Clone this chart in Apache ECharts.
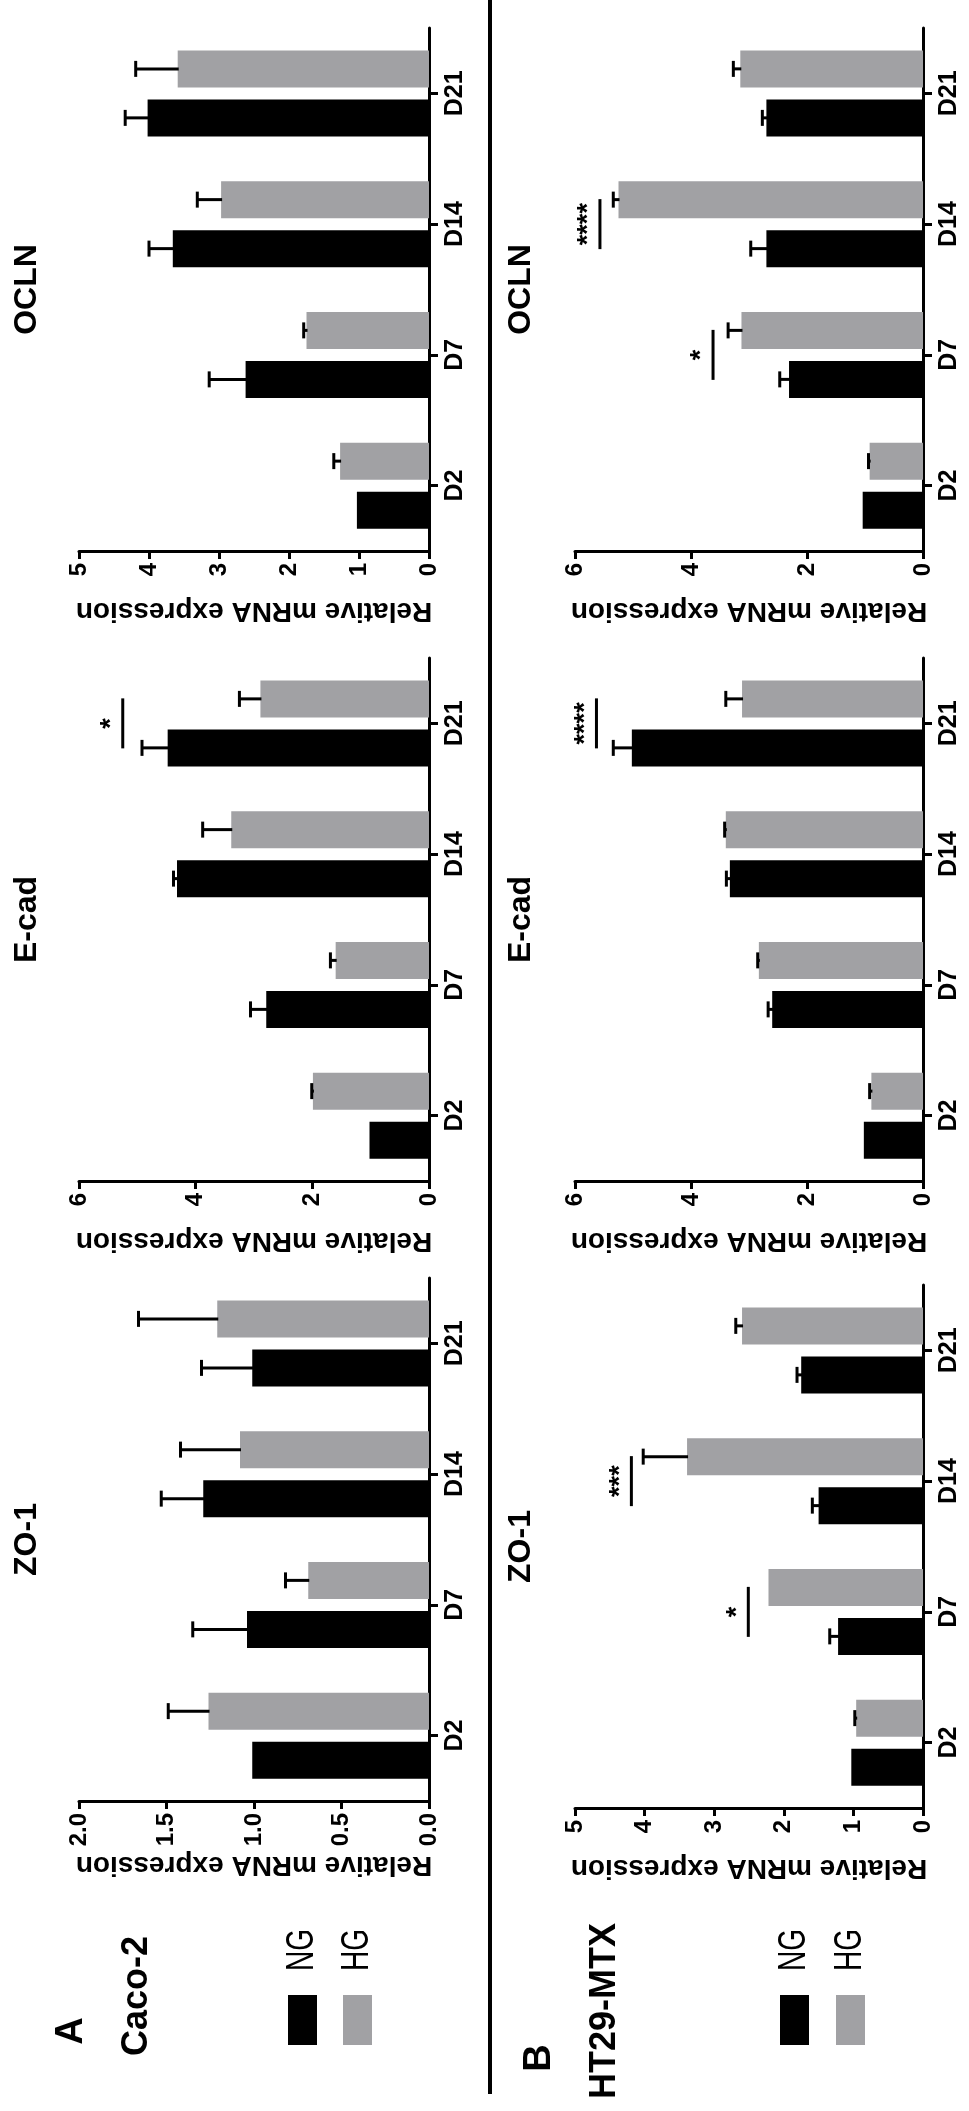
<!DOCTYPE html>
<html>
<head>
<meta charset="utf-8">
<script src="https://cdn.jsdelivr.net/npm/echarts@6/dist/echarts.min.js"></script>
<style>
html,body{margin:0;padding:0;background:#ffffff;}
#c{width:969px;height:2111px;}
</style>
</head>
<body>
<div id="c"></div>
<script>
// ---------------- data ----------------
const categories = ['D2', 'D7', 'D14', 'D21'];
const groupNames = ['NG', 'HG'];

// Caco-2 (A)
const caco_OCLN_NG = [1.03, 2.62, 3.66, 4.02];
const caco_OCLN_NG_err = [0, 0.52, 0.34, 0.32];
const caco_OCLN_HG = [1.27, 1.75, 2.97, 3.59];
const caco_OCLN_HG_err = [0.09, 0.04, 0.34, 0.60];
const caco_OCLN_ticks = [0, 1, 2, 3, 4, 5];
const caco_OCLN_tickLabels = ['0', '1', '2', '3', '4', '5'];
const caco_OCLN_sig = [];

const caco_Ecad_NG = [1.02, 2.79, 4.32, 4.48];
const caco_Ecad_NG_err = [0, 0.27, 0.06, 0.44];
const caco_Ecad_HG = [1.99, 1.60, 3.39, 2.89];
const caco_Ecad_HG_err = [0.02, 0.09, 0.49, 0.36];
const caco_Ecad_ticks = [0, 2, 4, 6];
const caco_Ecad_tickLabels = ['0', '2', '4', '6'];
const caco_Ecad_sig = [{cat: 3, value: 5.25, text: '*'}];

const caco_ZO1_NG = [1.01, 1.04, 1.29, 1.01];
const caco_ZO1_NG_err = [0, 0.31, 0.24, 0.29];
const caco_ZO1_HG = [1.26, 0.69, 1.08, 1.21];
const caco_ZO1_HG_err = [0.23, 0.13, 0.34, 0.45];
const caco_ZO1_ticks = [0, 0.5, 1.0, 1.5, 2.0];
const caco_ZO1_tickLabels = ['0.0', '0.5', '1.0', '1.5', '2.0'];
const caco_ZO1_sig = [];

// HT29-MTX (B)
const ht29_OCLN_NG = [1.04, 2.31, 2.70, 2.70];
const ht29_OCLN_NG_err = [0, 0.16, 0.27, 0.07];
const ht29_OCLN_HG = [0.92, 3.13, 5.25, 3.15];
const ht29_OCLN_HG_err = [0.02, 0.23, 0.09, 0.12];
const ht29_OCLN_ticks = [0, 2, 4, 6];
const ht29_OCLN_tickLabels = ['0', '2', '4', '6'];
const ht29_OCLN_sig = [{cat: 1, value: 3.62, text: '*'}, {cat: 2, value: 5.57, text: '****'}];

const ht29_Ecad_NG = [1.02, 2.60, 3.33, 5.02];
const ht29_Ecad_NG_err = [0, 0.07, 0.06, 0.32];
const ht29_Ecad_HG = [0.89, 2.83, 3.40, 3.12];
const ht29_Ecad_HG_err = [0.03, 0.02, 0.02, 0.28];
const ht29_Ecad_ticks = [0, 2, 4, 6];
const ht29_Ecad_tickLabels = ['0', '2', '4', '6'];
const ht29_Ecad_sig = [{cat: 3, value: 5.63, text: '****'}];

const ht29_ZO1_NG = [1.03, 1.22, 1.50, 1.75];
const ht29_ZO1_NG_err = [0, 0.12, 0.09, 0.06];
const ht29_ZO1_HG = [0.96, 2.22, 3.39, 2.60];
const ht29_ZO1_HG_err = [0.02, 0, 0.63, 0.09];
const ht29_ZO1_ticks = [0, 1, 2, 3, 4, 5];
const ht29_ZO1_tickLabels = ['0', '1', '2', '3', '4', '5'];
const ht29_ZO1_sig = [{cat: 1, value: 2.51, text: '*'}, {cat: 2, value: 4.19, text: '***'}];

const panelTitles = ['OCLN', 'E-cad', 'ZO-1'];
const cellLines = ['Caco-2', 'HT29-MTX'];
const panelLetters = ['A', 'B'];
const axisTitle = 'Relative mRNA expression';

// ---------------- layout / style ----------------
const FONT = "'Liberation Sans', Arial, Helvetica, sans-serif";
const NG_COLOR = '#000000';
const HG_COLOR = '#a1a1a4';
const BAR_W = 37, BAR_GAP = 12;
const TOTAL_W = BAR_W * 2 + BAR_GAP;
const COL_LEFT = [79, 575];
const COL_W = [350, 348];
const ROW_TOP = [[28, 658, 1278], [28, 658, 1285]];
const GRID_H = 523;
const TITLE_X = [27, 521];

const panels = [
  {col: 0, row: 0, ng: caco_OCLN_NG, ngErr: caco_OCLN_NG_err, hg: caco_OCLN_HG, hgErr: caco_OCLN_HG_err, ticks: caco_OCLN_ticks, tl: caco_OCLN_tickLabels, sig: caco_OCLN_sig},
  {col: 0, row: 1, ng: caco_Ecad_NG, ngErr: caco_Ecad_NG_err, hg: caco_Ecad_HG, hgErr: caco_Ecad_HG_err, ticks: caco_Ecad_ticks, tl: caco_Ecad_tickLabels, sig: caco_Ecad_sig},
  {col: 0, row: 2, ng: caco_ZO1_NG, ngErr: caco_ZO1_NG_err, hg: caco_ZO1_HG, hgErr: caco_ZO1_HG_err, ticks: caco_ZO1_ticks, tl: caco_ZO1_tickLabels, sig: caco_ZO1_sig},
  {col: 1, row: 0, ng: ht29_OCLN_NG, ngErr: ht29_OCLN_NG_err, hg: ht29_OCLN_HG, hgErr: ht29_OCLN_HG_err, ticks: ht29_OCLN_ticks, tl: ht29_OCLN_tickLabels, sig: ht29_OCLN_sig},
  {col: 1, row: 1, ng: ht29_Ecad_NG, ngErr: ht29_Ecad_NG_err, hg: ht29_Ecad_HG, hgErr: ht29_Ecad_HG_err, ticks: ht29_Ecad_ticks, tl: ht29_Ecad_tickLabels, sig: ht29_Ecad_sig},
  {col: 1, row: 2, ng: ht29_ZO1_NG, ngErr: ht29_ZO1_NG_err, hg: ht29_ZO1_HG, hgErr: ht29_ZO1_HG_err, ticks: ht29_ZO1_ticks, tl: ht29_ZO1_tickLabels, sig: ht29_ZO1_sig}
];

const grids = [], xAxes = [], yAxes = [], series = [], graphics = [];

// series order: index 0 drawn on top side of band (HG), index 1 lower side (NG)
function offsetFor(k) { return -TOTAL_W / 2 + k * (BAR_W + BAR_GAP) + BAR_W / 2; }

panels.forEach((p, g) => {
  const top = ROW_TOP[p.col][p.row];
  grids.push({left: COL_LEFT[p.col], top: top, width: COL_W[p.col], height: GRID_H, containLabel: false});
  const tmin = p.ticks[0], tmax = p.ticks[p.ticks.length - 1];
  const interval = p.ticks[1] - p.ticks[0];
  xAxes.push({
    gridIndex: g, type: 'value', inverse: true, position: 'bottom',
    min: tmin, max: tmax, interval: interval,
    axisLine: {show: true, onZero: false, lineStyle: {color: '#000', width: 3}},
    axisTick: {show: true, length: 8, lineStyle: {color: '#000', width: 3}},
    splitLine: {show: false},
    axisLabel: {
      rotate: 90, margin: 12, color: '#000', fontFamily: FONT, fontWeight: 'bold', fontSize: 24,
      formatter: function (v) {
        const i = p.ticks.findIndex(t => Math.abs(t - v) < 1e-9);
        return i >= 0 ? p.tl[i] : '';
      }
    },
    name: axisTitle, nameLocation: 'middle', nameGap: 46, nameRotate: 180,
    nameTextStyle: {color: '#000', fontFamily: FONT, fontWeight: 'bold', fontSize: 28}
  });
  yAxes.push({
    gridIndex: g, type: 'category', data: categories, position: 'right',
    axisLine: {show: true, onZero: false, lineStyle: {color: '#000', width: 3}},
    axisTick: {show: true, alignWithLabel: true, length: 9, lineStyle: {color: '#000', width: 3}},
    splitLine: {show: false},
    axisLabel: {rotate: 90, margin: 14, color: '#000', fontFamily: FONT, fontWeight: 'bold', fontSize: 25}
  });
  const groupsData = [
    {name: 'HG', vals: p.hg, errs: p.hgErr, color: HG_COLOR},
    {name: 'NG', vals: p.ng, errs: p.ngErr, color: NG_COLOR}
  ];
  groupsData.forEach((gd, k) => {
    series.push({
      type: 'bar', name: gd.name, xAxisIndex: g, yAxisIndex: g,
      data: gd.vals, barWidth: BAR_W, barGap: (BAR_GAP / BAR_W * 100) + '%',
      itemStyle: {color: gd.color}, silent: true
    });
  });
  groupsData.forEach((gd, k) => {
    series.push({
      type: 'custom', name: gd.name + ' SEM', xAxisIndex: g, yAxisIndex: g, z: 5, silent: true,
      encode: {x: 0, y: 1},
      data: gd.vals.map((v, i) => [v, i, gd.errs[i], k]),
      renderItem: function (params, api) {
        const v = api.value(0), c = api.value(1), e = api.value(2), kk = api.value(3);
        if (!(e > 0)) return null;
        const p0 = api.coord([v, c]);
        const p1 = api.coord([v + e, c]);
        const y = p0[1] + offsetFor(kk);
        return {type: 'group', children: [
          {type: 'line', shape: {x1: p0[0] + 1, y1: y, x2: p1[0], y2: y}, style: {stroke: '#000', lineWidth: 3}},
          {type: 'line', shape: {x1: p1[0], y1: y - 8, x2: p1[0], y2: y + 8}, style: {stroke: '#000', lineWidth: 3}}
        ]};
      }
    });
  });
  if (p.sig.length) {
    series.push({
      type: 'custom', name: 'sig', xAxisIndex: g, yAxisIndex: g, z: 6, silent: true,
      encode: {x: 0, y: 1},
      data: p.sig.map(s => [s.value, s.cat]),
      renderItem: function (params, api) {
        const pt = api.coord([api.value(0), api.value(1)]);
        const txt = p.sig[params.dataIndex].text;
        return {type: 'group', children: [
          {type: 'line', shape: {x1: pt[0], y1: pt[1] - 25, x2: pt[0], y2: pt[1] + 25}, style: {stroke: '#000', lineWidth: 3}},
          {type: 'text', x: pt[0] - 11, y: pt[1], rotation: Math.PI / 2,
           style: {text: txt, fill: '#000', fontFamily: FONT, fontWeight: 'bold', fontSize: 27,
                   textAlign: 'center', textVerticalAlign: 'middle', align: 'center', verticalAlign: 'middle'}}
        ]};
      }
    });
  }
  // panel title (rotated)
  graphics.push({
    type: 'text', x: TITLE_X[p.col], y: top + GRID_H / 2, rotation: Math.PI / 2, silent: true,
    style: {text: panelTitles[p.row], fill: '#000', fontFamily: FONT, fontWeight: 'bold', fontSize: 32,
            textAlign: 'center', textVerticalAlign: 'middle', align: 'center', verticalAlign: 'middle'}
  });
});

function rtext(text, x, y, size, weight, sx) {
  return {type: 'text', x: x, y: y, rotation: Math.PI / 2, scaleX: sx || 1, scaleY: 1, silent: true,
    style: {text: text, fill: '#000', fontFamily: FONT, fontWeight: weight, fontSize: size,
            textAlign: 'center', textVerticalAlign: 'middle', align: 'center', verticalAlign: 'middle'}};
}

// panel letters and cell lines
graphics.push(rtext(panelLetters[0], 72, 2031, 38, 'bold'));
graphics.push(rtext(cellLines[0], 137, 1996, 36, 'bold'));
graphics.push(rtext(panelLetters[1], 540, 2058, 38, 'bold'));
graphics.push(rtext(cellLines[1], 605, 2011, 36, 'bold'));

// legends
const LEG_X = [[288, 343], [780, 836]];
[0, 1].forEach(col => {
  [0, 1].forEach(k => {
    const x = LEG_X[col][k];
    graphics.push({type: 'rect', shape: {x: x, y: 1995, width: 29, height: 50}, style: {fill: k === 0 ? NG_COLOR : HG_COLOR}, silent: true});
    graphics.push(rtext(groupNames[k], x + 14.5, 1950, 38, 'normal', 0.74));
  });
});

// divider
graphics.push({type: 'rect', shape: {x: 488, y: 0, width: 4, height: 2094}, style: {fill: '#000'}, silent: true});

const chart = echarts.init(document.getElementById('c'), null, {renderer: 'canvas', width: 969, height: 2111});
chart.setOption({
  animation: false,
  backgroundColor: '#ffffff',
  grid: grids, xAxis: xAxes, yAxis: yAxes, series: series,
  graphic: {elements: graphics}
});
</script>
</body>
</html>
